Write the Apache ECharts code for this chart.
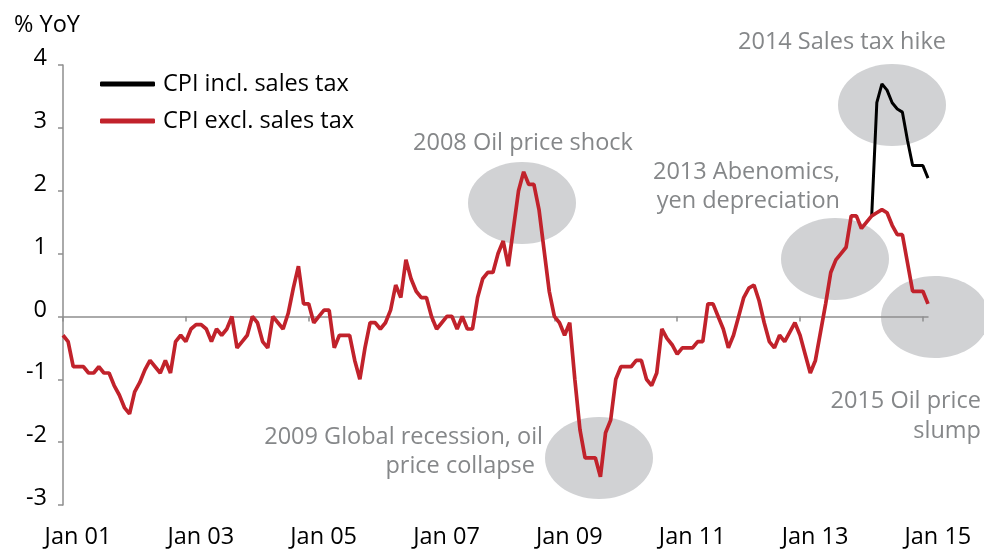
<!DOCTYPE html>
<html>
<head>
<meta charset="utf-8">
<script src="https://cdn.jsdelivr.net/npm/echarts@6/dist/echarts.min.js"></script>
<style>
html, body { margin: 0; padding: 0; background: #fff; }
#chart { width: 984px; height: 549px; }
</style>
</head>
<body>
<div id="chart"></div>
<script>
// monthly data, Jan 2001 - Feb 2015 (% YoY)
var startYear = 2001;
var monthNames = ['Jan', 'Feb', 'Mar', 'Apr', 'May', 'Jun', 'Jul', 'Aug', 'Sep', 'Oct', 'Nov', 'Dec'];

var cpiExTax = [
    -0.3, -0.4, -0.8, -0.8, -0.8, -0.9, -0.9, -0.8, -0.9, -0.9, -1.1, -1.25,   // 2001
    -1.45, -1.55, -1.2, -1.05, -0.85, -0.7, -0.8, -0.9, -0.7, -0.9, -0.4, -0.3, // 2002
    -0.4, -0.2, -0.13, -0.13, -0.2, -0.4, -0.2, -0.3, -0.2, 0.0, -0.5, -0.4,    // 2003
    -0.3, 0.0, -0.1, -0.4, -0.5, 0.0, -0.1, -0.2, 0.05, 0.45, 0.8, 0.2,         // 2004
    0.2, -0.1, 0.0, 0.1, 0.1, -0.5, -0.3, -0.3, -0.3, -0.7, -1.0, -0.5,         // 2005
    -0.1, -0.1, -0.2, -0.1, 0.1, 0.5, 0.3, 0.9, 0.6, 0.4, 0.3, 0.3,             // 2006
    0.0, -0.2, -0.1, 0.0, 0.0, -0.2, 0.0, -0.2, -0.2, 0.3, 0.6, 0.7,            // 2007
    0.7, 1.0, 1.2, 0.8, 1.4, 2.0, 2.3, 2.1, 2.1, 1.7, 1.05, 0.4,                // 2008
    0.0, -0.1, -0.3, -0.1, -1.0, -1.8, -2.25, -2.25, -2.25, -2.55, -1.85, -1.65, // 2009
    -1.0, -0.8, -0.8, -0.8, -0.7, -0.7, -1.0, -1.1, -0.9, -0.2, -0.35, -0.45,   // 2010
    -0.6, -0.5, -0.5, -0.5, -0.4, -0.4, 0.2, 0.2, 0.0, -0.2, -0.5, -0.3,        // 2011
    0.0, 0.3, 0.45, 0.5, 0.25, -0.1, -0.4, -0.5, -0.3, -0.4, -0.25, -0.1,       // 2012
    -0.3, -0.6, -0.9, -0.7, -0.25, 0.2, 0.7, 0.9, 1.0, 1.1, 1.6, 1.6,           // 2013
    1.4, 1.5, 1.6, 1.65, 1.7, 1.65, 1.45, 1.3, 1.3, 0.85, 0.4, 0.4,             // 2014
    0.4, 0.2                                                                    // 2015
];

// incl. sales tax, from Mar 14 on
var inclTaxStart = 'Mar 14';
var cpiInclTax = [1.6, 3.4, 3.7, 3.6, 3.4, 3.3, 3.25, 2.8, 2.4, 2.4, 2.4, 2.2];

var yTicks = { min: -3, max: 4, step: 1 };
var labelEvery = 24;

// category labels "Jan 01" ...
var months = [];
for (var i = 0; i < cpiExTax.length; i++) {
    var y = startYear + Math.floor(i / 12);
    months.push(monthNames[i % 12] + ' ' + String(y % 100).padStart(2, '0'));
}
var startIdx = months.indexOf(inclTaxStart);
var inclSeries = months.map(function (m, i) {
    var k = i - startIdx;
    return k >= 0 && k < cpiInclTax.length ? cpiInclTax[k] : null;
});

var FONT = '"Open Sans", "Noto Sans", sans-serif';
var FS = 23.5;
var AXIS_GREY = '#8e8e8e';
var NOTE_GREY = '#858789';
var BLOB = '#d1d2d4';
var RED = '#c1222b';

var showEvery = function (idx) { return idx % labelEvery === 0; };

// grey blobs behind the notes
function blob(cx, cy) {
    return { type: 'ellipse', z: 0, silent: true, shape: { cx: cx, cy: cy, rx: 54, ry: 41 }, style: { fill: BLOB } };
}
function note(text, x, y, align, color) {
    return {
        type: 'text', z: 0, silent: true,
        style: {
            text: text, x: x, y: y, fill: color || NOTE_GREY, font: FS + 'px ' + FONT,
            textAlign: align, align: align, textVerticalAlign: 'middle', verticalAlign: 'middle'
        }
    };
}

var chart = echarts.init(document.getElementById('chart'));
var option = {
    animation: false,
    textStyle: { fontFamily: FONT },
    grid: { left: 63, right: 56, top: 65, bottom: 41 },
    legend: {
        orient: 'vertical',
        left: 100,
        top: 72,
        padding: 0,
        itemGap: 13,
        itemWidth: 55,
        itemHeight: 5,
        icon: 'roundRect',
        textStyle: { fontSize: FS, color: '#000', padding: [0, 0, 0, 3] },
        data: ['CPI incl. sales tax', 'CPI excl. sales tax']
    },
    xAxis: [{
        type: 'category',
        position: 'bottom',
        data: months,
        boundaryGap: false,
        z: 1,
        axisLine: { onZero: true, lineStyle: { color: AXIS_GREY, width: 1.5 } },
        axisTick: { interval: showEvery, length: 5, lineStyle: { color: AXIS_GREY, width: 1.5 } },
        axisLabel: { show: false },
        splitLine: { show: false }
    }, {
        type: 'category',
        position: 'bottom',
        data: months,
        boundaryGap: false,
        axisLine: { show: false, onZero: false },
        axisTick: { show: false },
        axisLabel: { interval: showEvery, margin: 20, fontSize: FS, color: '#000', padding: [0, 0, 0, 30] },
        splitLine: { show: false }
    }],
    yAxis: {
        type: 'value',
        min: yTicks.min,
        max: yTicks.max,
        interval: yTicks.step,
        z: 1,
        axisLine: { show: true, onZero: false, lineStyle: { color: AXIS_GREY, width: 1.5 } },
        axisTick: { show: true, length: 5, lineStyle: { color: AXIS_GREY, width: 1.5 } },
        axisLabel: { fontSize: FS, color: '#000', margin: 16, verticalAlign: 'bottom', lineHeight: 13 },
        splitLine: { show: false }
    },
    series: [{
        name: 'CPI incl. sales tax',
        type: 'line',
        data: inclSeries,
        showSymbol: false,
        lineStyle: { color: '#000', width: 3 },
        itemStyle: { color: '#000' }
    }, {
        name: 'CPI excl. sales tax',
        type: 'line',
        data: cpiExTax,
        showSymbol: false,
        lineStyle: { color: RED, width: 3.7 },
        itemStyle: { color: RED }
    }],
    graphic: [
        blob(522, 203), blob(599, 458), blob(835, 259), blob(892, 105), blob(935, 317),
        note('% YoY', 14, 25, 'left', '#000'),
        note('2014 Sales tax hike', 842, 42, 'center'),
        note('2008 Oil price shock', 523, 143, 'center'),
        note('2013 Abenomics,', 840, 172, 'right'),
        note('yen depreciation', 840, 201, 'right'),
        note('2009 Global recession, oil', 543, 437, 'right'),
        note('price collapse', 535, 466, 'right'),
        note('2015 Oil price', 981, 401, 'right'),
        note('slump', 981, 431, 'right')
    ]
};
chart.setOption(option);
</script>
</body>
</html>
